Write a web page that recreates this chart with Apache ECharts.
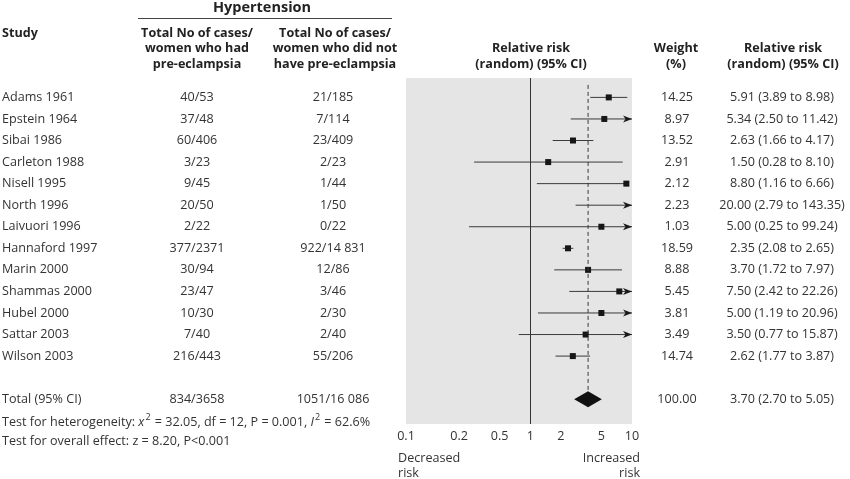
<!DOCTYPE html>
<html>
<head>
<meta charset="utf-8">
<script src="https://cdn.jsdelivr.net/npm/echarts@6/dist/echarts.min.js"></script>
<style>html,body{margin:0;padding:0;background:#fff}#c{width:850px;height:479px}</style>
</head>
<body>
<div id="c"></div>
<script>
const studies = ['Adams 1961','Epstein 1964','Sibai 1986','Carleton 1988','Nisell 1995','North 1996','Laivuori 1996','Hannaford 1997','Marin 2000','Shammas 2000','Hubel 2000','Sattar 2003','Wilson 2003'];
const casesPE = ['40/53','37/48','60/406','3/23','9/45','20/50','2/22','377/2371','30/94','23/47','10/30','7/40','216/443'];
const casesNoPE = ['21/185','7/114','23/409','2/23','1/44','1/50','0/22','922/14 831','12/86','3/46','2/30','2/40','55/206'];
const weights = [14.25,8.97,13.52,2.91,2.12,2.23,1.03,18.59,8.88,5.45,3.81,3.49,14.74];
const rr = [5.91,5.34,2.63,1.50,8.80,20.00,5.00,2.35,3.70,7.50,5.00,3.50,2.62];
const ciLow = [3.89,2.50,1.66,0.28,1.16,2.79,0.25,2.08,1.72,2.42,1.19,0.77,1.77];
const ciHigh = [8.98,11.42,4.17,8.10,6.66,143.35,99.24,2.65,7.97,22.26,20.96,15.87,3.87];
const totalLabel = 'Total (95% CI)';
const totalPE = '834/3658';
const totalNoPE = '1051/16 086';
const totalWeight = 100.00;
const totalRR = 3.70, totalLow = 2.70, totalHigh = 5.05;
const tickValues = [0.1,0.2,0.5,1,2,5,10];
const tickLabels = ['0.1','0.2','0.5','1','2','5','10'];

const FONT = '"Open Sans", "Noto Sans", sans-serif';
const FS = 12.6;
const TXT = '#333';
const HDR = '#222';
const xMin = Math.log10(0.06), xMax = 1;
const yMin = -0.9, yMax = 15.15;
const totalRow = 14;
const L = v => Math.log10(v);
const f2 = v => v.toFixed(2);

// label positions: leftmost label at the axis start, like the reference
const labelPos = tickValues.map((v, i) => i === 0 ? xMin : L(v));

const chart = echarts.init(document.getElementById('c'), null, {renderer: 'canvas'});

function textCol(colX, align, texts, rows, weight) {
  return {
    type: 'custom', xAxisIndex: 1, yAxisIndex: 1, silent: true,
    data: rows.map(r => [colX, r]),
    renderItem: (params, api) => {
      const p = api.coord([api.value(0), api.value(1)]);
      return {type: 'text', x: p[0], y: p[1], style: {
        text: texts[params.dataIndex], textAlign: align, textVerticalAlign: 'middle',
        font: (weight || 'normal') + ' ' + FS + 'px ' + FONT, fill: TXT }};
    }
  };
}

const rows = studies.map((s, i) => i).concat([totalRow]);
const col1 = studies.concat([totalLabel]);
const col2 = casesPE.concat([totalPE]);
const col3 = casesNoPE.concat([totalNoPE]);
const col4 = weights.map(f2).concat([f2(totalWeight)]);
const col5 = rr.map((v, i) => `${f2(v)} (${f2(ciLow[i])} to ${f2(ciHigh[i])})`)
  .concat([`${f2(totalRR)} (${f2(totalLow)} to ${f2(totalHigh)})`]);

const forest = {
  type: 'custom', xAxisIndex: 0, yAxisIndex: 0, silent: true, clip: false,
  data: studies.map((s, i) => [i, ciLow[i], ciHigh[i], rr[i]]),
  renderItem: (params, api) => {
    const i = api.value(0), lo = api.value(1), hi = api.value(2), est = api.value(3);
    const X = v => api.coord([Math.min(Math.max(L(v), xMin), xMax), i])[0];
    const y = api.coord([0, i])[1];
    const x0 = X(lo), x1 = X(Math.max(hi, Math.min(est, 10)));
    const children = [{type: 'line', shape: {x1: x0, y1: y, x2: x1, y2: y}, style: {stroke: '#3a3a3a', lineWidth: 1}}];
    if (hi > 10) {
      const tx = X(10);
      children.push({type: 'polygon', shape: {points: [[tx, y], [tx - 9, y - 3.5], [tx - 6.5, y], [tx - 9, y + 3.5]]}, style: {fill: '#1a1a1a'}});
    }
    if (est <= 10) {
      const xe = X(est);
      children.push({type: 'rect', shape: {x: xe - 3, y: y - 3, width: 6, height: 6}, style: {fill: '#161616'}});
    }
    return {type: 'group', children};
  }
};

const totalSeries = {
  type: 'custom', xAxisIndex: 0, yAxisIndex: 0, silent: true, clip: false,
  data: [[totalRow, totalLow, totalHigh, totalRR]],
  renderItem: (params, api) => {
    const r = api.value(0);
    const c = api.coord([L(api.value(3)), r]);
    const xl = api.coord([L(api.value(1)), r])[0];
    const xh = api.coord([L(api.value(2)), r])[0];
    const h = 8;
    const top = api.coord([L(api.value(3)), -0.58])[1];
    return {type: 'group', children: [
      {type: 'line', shape: {x1: c[0], y1: top, x2: c[0], y2: c[1] - h}, style: {stroke: '#3a3a3a', lineWidth: 1, lineDash: [4, 3]}},
      {type: 'polygon', shape: {points: [[xl, c[1]], [c[0], c[1] - h], [xh, c[1]], [c[0], c[1] + h]]}, style: {fill: '#111'}}
    ]};
  },
  markLine: {
    silent: true, symbol: 'none', label: {show: false},
    lineStyle: {color: '#333', width: 1, type: 'solid'},
    data: [{xAxis: 0}]
  }
};

function hdr(text, x, y, align, bold, size) {
  return {type: 'text', x, y, silent: true, style: {
    text, textAlign: align, textVerticalAlign: 'middle',
    font: (bold ? 'bold ' : '') + (size || FS) + 'px ' + FONT, fill: bold ? HDR : TXT }};
}

chart.setOption({
  animation: false,
  grid: [
    {left: 406, top: 78, width: 226, height: 346, show: true, backgroundColor: '#e5e5e5', borderWidth: 0, containLabel: false},
    {left: 0, top: 78, width: 850, height: 346, show: false, containLabel: false}
  ],
  xAxis: [
    {type: 'value', gridIndex: 0, min: xMin, max: xMax,
      axisLine: {show: false}, axisTick: {show: false}, splitLine: {show: false},
      axisLabel: {show: true, customValues: labelPos, margin: 6,
        formatter: (v) => { const k = labelPos.findIndex(p => Math.abs(p - v) < 1e-6); return k >= 0 ? tickLabels[k] : ''; },
        color: TXT, fontSize: FS, fontFamily: FONT}},
    {type: 'value', gridIndex: 1, min: 0, max: 850, show: false}
  ],
  yAxis: [
    {type: 'value', gridIndex: 0, min: yMin, max: yMax, inverse: true, show: false},
    {type: 'value', gridIndex: 1, min: yMin, max: yMax, inverse: true, show: false}
  ],
  series: [
    forest, totalSeries,
    textCol(2, 'left', col1, rows),
    textCol(197, 'center', col2, rows),
    textCol(333, 'center', col3, rows),
    textCol(677, 'center', col4, rows),
    textCol(782, 'center', col5, rows)
  ],
  graphic: [
    hdr('Hypertension', 262, 8, 'center', true, 14.5),
    {type: 'line', silent: true, shape: {x1: 138, y1: 18.5, x2: 392, y2: 18.5}, style: {stroke: '#444', lineWidth: 1}},
    hdr('Study', 2, 33, 'left', true),
    hdr('Total No of cases/', 197, 33, 'center', true),
    hdr('women who had', 197, 48.5, 'center', true),
    hdr('pre-eclampsia', 197, 64, 'center', true),
    hdr('Total No of cases/', 335, 33, 'center', true),
    hdr('women who did not', 335, 48.5, 'center', true),
    hdr('have pre-eclampsia', 335, 64, 'center', true),
    hdr('Relative risk', 531, 48.5, 'center', true),
    hdr('(random) (95% CI)', 531, 64, 'center', true),
    hdr('Weight', 676, 48.5, 'center', true),
    hdr('(%)', 676, 64, 'center', true),
    hdr('Relative risk', 783, 48.5, 'center', true),
    hdr('(random) (95% CI)', 783, 64, 'center', true),
    {type: 'text', x: 2, y: 422, silent: true, style: {
      text: '{n|Test for heterogeneity: }{i|x}{s|2}{n| = 32.05, df = 12, P = 0.001, }{i|I}{s|2}{n| = 62.6%}',
      textVerticalAlign: 'middle', font: FS + 'px ' + FONT, fill: TXT,
      rich: {
        n: {fontSize: FS, fontFamily: FONT, color: TXT, lineHeight: 18, verticalAlign: 'middle'},
        i: {fontSize: FS, fontFamily: FONT, fontStyle: 'italic', color: TXT, lineHeight: 18, verticalAlign: 'middle'},
        s: {fontSize: 9, fontFamily: FONT, color: TXT, lineHeight: 18, verticalAlign: 'top', padding: [0, 1, 0, 1]}
      }
    }},
    hdr('Test for overall effect: z = 8.20, P<0.001', 2, 441, 'left', false),
    hdr('Decreased', 398, 458, 'left', false),
    hdr('risk', 398, 473, 'left', false),
    hdr('Increased', 640, 458, 'right', false),
    hdr('risk', 640, 473, 'right', false)
  ]
});
</script>
</body>
</html>
